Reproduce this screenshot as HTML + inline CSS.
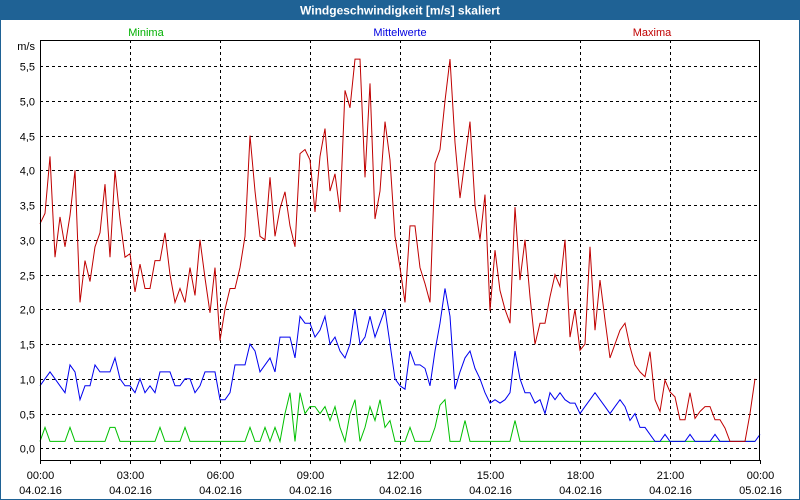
<!DOCTYPE html>
<html><head><meta charset="utf-8">
<style>
html,body{margin:0;padding:0;background:#fff;}
svg{display:block;font-family:"Liberation Sans",sans-serif;}
</style></head>
<body>
<svg id="chart" width="800" height="500" viewBox="0 0 800 500" xmlns="http://www.w3.org/2000/svg">
<rect x="0" y="0" width="800" height="500" fill="#fff"/>
<rect x="0.5" y="0.5" width="799" height="499" fill="none" stroke="#1f6295"/>
<rect x="0" y="0" width="800" height="20" fill="#1f6295"/>
<text x="400" y="14.5" text-anchor="middle" fill="#fff" font-weight="bold" font-size="12">Windgeschwindigkeit [m/s] skaliert</text>
<text x="146" y="36" text-anchor="middle" fill="#00b000" font-size="11">Minima</text>
<text x="400" y="36" text-anchor="middle" fill="#0000e0" font-size="11">Mittelwerte</text>
<text x="652" y="36" text-anchor="middle" fill="#c00000" font-size="11">Maxima</text>
<text x="35" y="50" text-anchor="end" fill="#000" font-size="11">m/s</text>
<g id="grid"></g>
<g id="series"></g>
<rect x="40.5" y="40.5" width="719" height="420" fill="none" stroke="#000"/>
<g id="axes"></g>
</svg>
<script>
const yTicks = [0,0.5,1.0,1.5,2.0,2.5,3.0,3.5,4.0,4.5,5.0,5.5];
const yTickLabels = ["0,0","0,5","1,0","1,5","2,0","2,5","3,0","3,5","4,0","4,5","5,0","5,5"];
const xTickHours = [0,3,6,9,12,15,18,21,24];
const xTimeLabels = ["00:00","03:00","06:00","09:00","12:00","15:00","18:00","21:00","00:00"];
const xDateLabels = ["04.02.16","04.02.16","04.02.16","04.02.16","04.02.16","04.02.16","04.02.16","04.02.16","05.02.16"];
// samples every 10 minutes starting 00:00
const maxima = [3.23,3.38,4.2,2.75,3.33,2.9,3.35,4.0,2.1,2.7,2.4,2.9,3.1,3.8,2.75,4.0,3.3,2.75,2.8,2.25,2.65,2.3,2.3,2.7,2.7,3.1,2.5,2.1,2.3,2.1,2.6,2.2,3.0,2.45,1.95,2.6,1.55,2.0,2.3,2.3,2.6,3.05,4.5,3.7,3.05,3.0,3.9,3.05,3.45,3.69,3.2,2.9,4.24,4.3,4.15,3.4,4.2,4.6,3.7,3.95,3.4,5.15,4.9,5.6,5.6,3.9,5.25,3.3,3.7,4.7,4.15,3.05,2.6,2.1,3.2,3.2,2.6,2.37,2.1,4.1,4.3,5.0,5.6,4.4,3.6,4.15,4.7,3.5,3.0,3.65,1.98,2.85,2.27,2.0,1.8,3.47,2.42,3.0,2.18,1.5,1.8,1.8,2.18,2.5,2.33,3.0,1.6,2.0,1.41,1.5,2.9,1.7,2.42,1.85,1.3,1.5,1.7,1.8,1.46,1.2,1.1,1.03,1.39,0.7,0.53,0.98,0.81,0.74,0.41,0.41,0.8,0.43,0.53,0.6,0.6,0.41,0.41,0.29,0.1,0.1,0.1,0.1,0.5,1.0];
const mittelwerte = [0.9,1.0,1.1,1.0,0.9,0.8,1.2,1.1,0.7,0.9,0.9,1.2,1.1,1.1,1.1,1.3,1.0,0.9,0.9,0.8,1.0,0.8,0.9,0.8,1.1,1.1,1.1,0.9,0.9,1.0,1.0,0.8,0.9,1.1,1.1,1.1,0.7,0.7,0.8,1.2,1.2,1.2,1.5,1.4,1.1,1.2,1.3,1.1,1.6,1.6,1.6,1.3,1.9,1.8,1.8,1.6,1.7,1.9,1.5,1.6,1.4,1.3,1.5,2.0,1.5,1.6,1.9,1.6,1.8,2.0,1.5,1.0,0.9,0.85,1.4,1.2,1.2,1.15,0.9,1.4,1.8,2.3,1.9,0.85,1.1,1.3,1.4,1.15,1.0,0.8,0.65,0.7,0.65,0.7,0.8,1.4,1.0,0.8,0.8,0.65,0.7,0.5,0.8,0.7,0.8,0.7,0.65,0.65,0.5,0.6,0.7,0.8,0.7,0.6,0.5,0.6,0.7,0.6,0.4,0.5,0.3,0.3,0.2,0.1,0.1,0.2,0.1,0.1,0.1,0.1,0.2,0.1,0.1,0.1,0.1,0.2,0.1,0.1,0.1,0.1,0.1,0.1,0.1,0.1,0.2];
const minima = [0.1,0.3,0.1,0.1,0.1,0.1,0.3,0.1,0.1,0.1,0.1,0.1,0.1,0.1,0.3,0.3,0.1,0.1,0.1,0.1,0.1,0.1,0.1,0.1,0.3,0.1,0.1,0.1,0.1,0.3,0.1,0.1,0.1,0.1,0.1,0.1,0.1,0.1,0.1,0.1,0.1,0.1,0.3,0.1,0.1,0.3,0.1,0.3,0.1,0.5,0.8,0.1,0.8,0.5,0.6,0.6,0.5,0.6,0.4,0.6,0.3,0.1,0.5,0.7,0.1,0.3,0.6,0.4,0.7,0.3,0.4,0.1,0.1,0.1,0.3,0.1,0.1,0.1,0.1,0.3,0.62,0.7,0.1,0.1,0.1,0.4,0.1,0.1,0.1,0.1,0.1,0.1,0.1,0.1,0.1,0.4,0.1,0.1,0.1,0.1,0.1,0.1,0.1,0.1,0.1,0.1,0.1,0.1,0.1,0.1,0.1,0.1,0.1,0.1,0.1,0.1,0.1,0.1,0.1,0.1,0.1,0.1,0.1,0.1,0.1,0.1,0.1,0.1,0.1,0.1,0.1,0.1,0.1,0.1,0.1,0.1,0.1,0.1,0.1,0.1,0.1,0.1,0.1,0.1];

const NS = "http://www.w3.org/2000/svg";
const X0 = 40, X1 = 760, Y0 = 448.3, PX_PER_UNIT = 69.5;
function xHour(h){ return X0 + (X1 - X0) * h / 24; }
function xIdx(i){ return xHour(i / 6); }
function yVal(v){ return Y0 - v * PX_PER_UNIT; }
function mk(tag, attrs, parent){
  const e = document.createElementNS(NS, tag);
  for (const k in attrs) e.setAttribute(k, attrs[k]);
  parent.appendChild(e);
  return e;
}
const grid = document.getElementById('grid');
const axes = document.getElementById('axes');
const series = document.getElementById('series');

yTicks.forEach((v, i) => {
  const y = Math.round(yVal(v)) + 0.5;
  const l = mk('line', {x1: X0, x2: X1, y1: y, y2: y, stroke: '#000', 'stroke-dasharray': '3,3'}, grid);
  
  
  const t = mk('text', {x: 35, y: y + 4, 'text-anchor': 'end', 'font-size': 11, fill: '#000'}, axes);
  t.textContent = yTickLabels[i];
  
  
});
xTickHours.forEach((h, i) => {
  const x = Math.round(xHour(h)) + 0.5;
  if (i > 0 && i < xTickHours.length - 1) {
    const l = mk('line', {x1: x, x2: x, y1: 40, y2: 460, stroke: '#000', 'stroke-dasharray': '3,3'}, grid);
    
    
  }
  const t1 = mk('text', {x: x, y: 479, 'text-anchor': 'middle', 'font-size': 11, fill: '#000'}, axes);
  t1.textContent = xTimeLabels[i];
  
  
  const t2 = mk('text', {x: x, y: 494, 'text-anchor': 'middle', 'font-size': 11, fill: '#000'}, axes);
  t2.textContent = xDateLabels[i];
  
  
});
for (let h = 0; h <= 24; h++) {
  const x = Math.round(xHour(h)) + 0.5;
  const l = mk('line', {x1: x, x2: x, y1: 460, y2: 464, stroke: '#000'}, axes);
  
  
}
function drawSeries(vals, color, name){
  const pts = vals.map((v, i) => xIdx(i).toFixed(1) + ',' + yVal(v).toFixed(1)).join(' ');
  const p = mk('polyline', {points: pts, fill: 'none', stroke: color, 'stroke-width': 1, 'stroke-linejoin': 'miter'}, series);
  
  
}
drawSeries(minima, '#00c000', 'minima-line');
drawSeries(mittelwerte, '#0000f0', 'mittelwerte-line');
drawSeries(maxima, '#c00000', 'maxima-line');
</script>
</body></html>
